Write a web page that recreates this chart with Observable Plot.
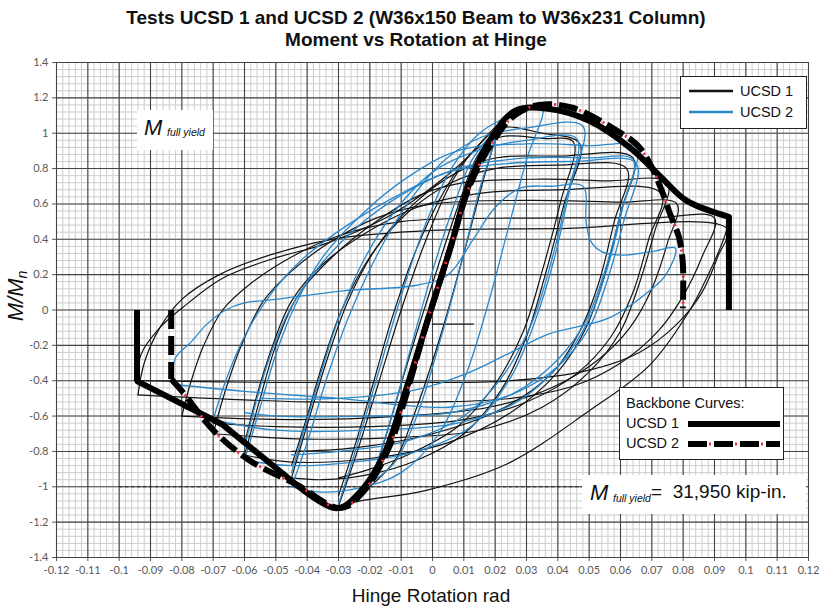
<!DOCTYPE html>
<html><head><meta charset="utf-8">
<script src="https://cdn.jsdelivr.net/npm/d3@7"></script>
<script src="https://cdn.jsdelivr.net/npm/@observablehq/plot@0.6"></script>
<style>
body{margin:0;background:#fff;}
#wrap{position:relative;width:825px;height:607px;font-family:"Liberation Sans",Arial,sans-serif;color:#111;overflow:hidden;}
#wrap svg{position:absolute;left:0;top:0;}
.abs{position:absolute;}
#title{left:0;top:7px;width:832px;text-align:center;font-weight:bold;font-size:19px;line-height:22px;}
#xlab{left:0;top:585px;width:862px;text-align:center;font-size:19px;line-height:22px;}
#ylab{left:16px;top:296px;transform:translate(-50%,-50%) rotate(-90deg);font-style:italic;font-size:22px;white-space:nowrap;}
#ylab sub{font-size:14px;vertical-align:-4px;}
#leg1{left:680px;top:76px;width:125px;height:51px;border:1px solid #222;background:#fff;}
#leg2{left:619px;top:387px;width:163px;height:71px;border:1px solid #222;background:#fff;}
.lrow{position:absolute;font-size:14.5px;line-height:16px;white-space:nowrap;}
#ann1{left:137px;top:110px;width:76px;height:40px;background:#fff;}
#ann2{left:582px;top:475px;width:224px;height:39px;background:#fff;}
.bigM{font-style:italic;font-size:22px;}
.sm{font-style:italic;font-size:10.5px;}
</style></head><body><div id="wrap"></div>
<script>
// ---------------- data ----------------
const xTicks = [-0.12,-0.11,-0.1,-0.09,-0.08,-0.07,-0.06,-0.05,-0.04,-0.03,-0.02,-0.01,0,0.01,0.02,0.03,0.04,0.05,0.06,0.07,0.08,0.09,0.1,0.11,0.12];
const yTicks = [-1.4,-1.2,-1,-0.8,-0.6,-0.4,-0.2,0,0.2,0.4,0.6,0.8,1,1.2,1.4];

// UCSD 1 hysteresis (rotation rad, M/Mn)
const ucsd1C1 = [[-0.012,-0.68],[-0.006,-0.32],[0.0,0.04],[0.006,0.40],[0.012,0.74],[0.007,0.42],[0.0,0.0],[-0.006,-0.36],[-0.012,-0.68]];
const ucsd1C2 = [[-0.02,-1.0],[-0.015,-0.72],[-0.008,-0.3],[0.0,0.15],[0.008,0.58],[0.014,0.86],[0.02,1.0],[0.016,0.72],[0.01,0.32],[0.003,-0.12],[-0.005,-0.55],[-0.012,-0.85],[-0.02,-1.0]];
const ucsd1C3 = [[-0.03,-1.11],[-0.024,-0.8],[-0.017,-0.4],[-0.01,0.0],[-0.002,0.4],[0.006,0.72],[0.014,0.92],[0.022,1.03],[0.035,1.0],[0.047,0.94],[0.042,0.6],[0.036,0.2],[0.03,-0.15],[0.022,-0.45],[0.01,-0.7],[-0.005,-0.85],[-0.02,-0.93],[-0.035,-0.96],[-0.045,-0.95]];
const ucsd1C3b = [[-0.03,-1.05],[-0.025,-0.78],[-0.019,-0.42],[-0.013,-0.05],[-0.005,0.35],[0.004,0.68],[0.012,0.88],[0.022,0.98],[0.035,0.97],[0.045,0.95],[0.041,0.62],[0.035,0.22],[0.029,-0.12],[0.02,-0.42],[0.008,-0.66],[-0.008,-0.82],[-0.02,-0.9],[-0.03,-0.95]];
const ucsd1C4 = [[-0.045,-0.95],[-0.04,-0.65],[-0.034,-0.3],[-0.027,0.05],[-0.018,0.35],[-0.006,0.6],[0.008,0.78],[0.02,0.86],[0.04,0.87],[0.064,0.86],[0.06,0.55],[0.055,0.2],[0.049,-0.1],[0.04,-0.35],[0.025,-0.58],[0.005,-0.75],[-0.02,-0.84],[-0.045,-0.86],[-0.06,-0.82]];
const ucsd1C4b = [[-0.045,-0.88],[-0.04,-0.6],[-0.035,-0.3],[-0.029,0.0],[-0.02,0.3],[-0.008,0.55],[0.006,0.72],[0.02,0.8],[0.04,0.82],[0.062,0.8],[0.058,0.5],[0.053,0.15],[0.047,-0.12],[0.038,-0.36],[0.022,-0.56],[0.0,-0.7],[-0.025,-0.78],[-0.045,-0.8]];
const ucsd1C5 = [[-0.06,-0.82],[-0.055,-0.5],[-0.05,-0.2],[-0.043,0.08],[-0.032,0.3],[-0.018,0.5],[-0.004,0.65],[0.01,0.72],[0.035,0.74],[0.055,0.73],[0.075,0.72],[0.071,0.45],[0.066,0.15],[0.06,-0.12],[0.05,-0.35],[0.035,-0.55],[0.015,-0.68],[-0.01,-0.72],[-0.04,-0.73],[-0.07,-0.7]];
const ucsd1C5b = [[-0.06,-0.76],[-0.056,-0.48],[-0.051,-0.2],[-0.045,0.05],[-0.035,0.26],[-0.02,0.45],[-0.005,0.58],[0.015,0.66],[0.04,0.68],[0.073,0.66],[0.069,0.4],[0.064,0.1],[0.057,-0.15],[0.046,-0.36],[0.03,-0.52],[0.01,-0.62],[-0.02,-0.66],[-0.05,-0.66],[-0.07,-0.64]];
const ucsd1C6 = [[-0.07,-0.7],[-0.066,-0.45],[-0.061,-0.2],[-0.054,0.05],[-0.045,0.22],[-0.033,0.38],[-0.018,0.52],[0.0,0.6],[0.03,0.62],[0.06,0.61],[0.078,0.6],[0.075,0.38],[0.07,0.12],[0.063,-0.1],[0.053,-0.28],[0.038,-0.44],[0.018,-0.55],[-0.01,-0.6],[-0.045,-0.62],[-0.08,-0.6]];
const ucsd1C7 = [[-0.08,-0.6],[-0.077,-0.4],[-0.073,-0.2],[-0.067,0.0],[-0.058,0.15],[-0.045,0.3],[-0.03,0.42],[-0.01,0.5],[0.03,0.52],[0.07,0.52],[0.09,0.52],[0.086,0.3],[0.08,0.08],[0.072,-0.12],[0.06,-0.3],[0.045,-0.43],[0.025,-0.5],[0.0,-0.52],[-0.04,-0.52],[-0.094,-0.48]];
const ucsd1C8 = [[-0.094,-0.48],[-0.092,-0.3],[-0.087,-0.1],[-0.08,0.06],[-0.068,0.2],[-0.052,0.31],[-0.032,0.4],[0.0,0.45],[0.04,0.46],[0.094,0.46],[0.091,0.3],[0.086,0.1],[0.078,-0.08],[0.066,-0.24],[0.05,-0.34],[0.025,-0.4],[-0.01,-0.41],[-0.05,-0.41],[-0.094,-0.4]];
const ucsd1OuterUp = [[-0.0943,-0.40],[-0.093,-0.25],[-0.087,-0.10],[-0.080,0.01],[-0.067,0.18],[-0.051,0.29],[-0.035,0.37],[-0.015,0.52],[-0.002,0.67],[0.011,0.86],[0.021,1.05],[0.028,1.12]];
const ucsd1OuterDown = [[0.0946,0.50],[0.0927,0.39],[0.088,0.2],[0.0825,0.01],[0.0694,-0.31],[0.05,-0.57],[0.0239,-0.87],[-0.002,-1.02],[-0.023,-1.08],[-0.030,-1.11]];
const ucsd1Mark = [[0.0,-0.08],[0.013,-0.08]];

// UCSD 2 hysteresis
const ucsd2C1 = [[-0.02,-0.98],[-0.014,-0.66],[-0.007,-0.22],[0.0,0.22],[0.007,0.6],[0.013,0.86],[0.02,1.0],[0.015,0.68],[0.009,0.25],[0.002,-0.2],[-0.005,-0.6],[-0.012,-0.86],[-0.02,-0.98]];
const ucsd2C2 = [[-0.03,-1.1],[-0.025,-0.82],[-0.018,-0.4],[-0.011,0.02],[-0.003,0.45],[0.006,0.8],[0.015,1.0],[0.025,1.1],[0.035,1.15],[0.03,0.85],[0.024,0.45],[0.018,0.05],[0.011,-0.35],[0.002,-0.7],[-0.01,-0.92],[-0.022,-1.0],[-0.035,-1.03],[-0.045,-1.0]];
const ucsd2C3 = [[-0.045,-1.0],[-0.04,-0.75],[-0.034,-0.4],[-0.027,-0.05],[-0.018,0.3],[-0.008,0.6],[0.004,0.85],[0.016,0.98],[0.03,1.03],[0.048,1.04],[0.044,0.7],[0.039,0.3],[0.033,-0.05],[0.025,-0.38],[0.013,-0.65],[-0.005,-0.8],[-0.025,-0.86],[-0.045,-0.88],[-0.06,-0.85]];
const ucsd2C3b = [[-0.045,-0.92],[-0.041,-0.68],[-0.036,-0.38],[-0.03,-0.05],[-0.022,0.28],[-0.012,0.56],[0.0,0.78],[0.014,0.9],[0.03,0.96],[0.046,0.97],[0.043,0.65],[0.038,0.28],[0.032,-0.06],[0.023,-0.36],[0.01,-0.6],[-0.008,-0.74],[-0.03,-0.8],[-0.045,-0.82]];
const ucsd2C4 = [[-0.06,-0.85],[-0.055,-0.55],[-0.05,-0.25],[-0.044,0.02],[-0.035,0.3],[-0.022,0.55],[-0.008,0.75],[0.008,0.9],[0.03,0.94],[0.05,0.93],[0.065,0.92],[0.061,0.6],[0.056,0.25],[0.05,-0.05],[0.041,-0.3],[0.027,-0.52],[0.008,-0.64],[-0.02,-0.68],[-0.05,-0.68],[-0.07,-0.62]];
const ucsd2C4b = [[-0.06,-0.78],[-0.056,-0.5],[-0.051,-0.22],[-0.045,0.02],[-0.036,0.25],[-0.024,0.47],[-0.01,0.65],[0.008,0.8],[0.03,0.86],[0.05,0.86],[0.064,0.85],[0.06,0.55],[0.055,0.22],[0.049,-0.06],[0.04,-0.28],[0.026,-0.47],[0.006,-0.58],[-0.02,-0.6],[-0.05,-0.6],[-0.06,-0.58]];
const ucsd2C5 = [[-0.07,-0.62],[-0.066,-0.4],[-0.06,-0.15],[-0.052,0.08],[-0.042,0.28],[-0.028,0.47],[-0.012,0.64],[0.005,0.78],[0.025,0.83],[0.045,0.84],[0.065,0.83],[0.061,0.5],[0.056,0.18],[0.05,-0.1],[0.04,-0.32],[0.025,-0.48],[0.005,-0.55],[-0.03,-0.5],[-0.06,-0.46],[-0.083,-0.42]];
const ucsd2C6 = [[-0.083,-0.39],[-0.082,-0.27],[-0.077,-0.18],[-0.072,-0.08],[-0.066,0.0],[-0.06,0.04],[-0.05,0.06],[-0.028,0.11],[-0.005,0.14],[0.005,0.2],[0.013,0.4],[0.02,0.58],[0.028,0.69],[0.038,0.7],[0.048,0.70],[0.049,0.5],[0.0505,0.39],[0.054,0.33],[0.06,0.31],[0.07,0.33],[0.0775,0.35],[0.0745,0.2],[0.0694,0.11],[0.0564,-0.045],[0.037,-0.136],[0.0239,-0.25],[0.0108,-0.36],[-0.005,-0.45],[-0.03,-0.5],[-0.055,-0.5]];

// Backbone curves
const ucsd1Backbone = [[-0.0943,0],[-0.0943,-0.402],[-0.0672,-0.646],[-0.0475,-0.929],[-0.0306,-1.121],[-0.0229,-1.025],[-0.0150,-0.798],[-0.0099,-0.532],[-0.0019,-0.079],[0.0057,0.351],[0.0121,0.730],[0.0188,0.974],[0.0264,1.127],[0.0369,1.138],[0.0500,1.070],[0.0631,0.917],[0.0732,0.747],[0.0812,0.617],[0.0946,0.527],[0.0946,0]];
const ucsd2Backbone = [[-0.0834,0],[-0.0834,-0.39],[-0.0799,-0.46],[-0.0697,-0.685],[-0.058,-0.855],[-0.0436,-0.985],[-0.0293,-1.12],[-0.0217,-1.02],[-0.0137,-0.77],[-0.009,-0.515],[-0.0016,-0.06],[0.0054,0.334],[0.0118,0.70],[0.0188,0.94],[0.0261,1.10],[0.0341,1.16],[0.0446,1.144],[0.0589,1.014],[0.0656,0.929],[0.0701,0.804],[0.0732,0.674],[0.0758,0.544],[0.0787,0.408],[0.0799,0.26],[0.0799,0.01]];

// M full yield reference line
const fullYieldLine = [[-0.1,-1],[0.05,-1]];

// ---------------- build ----------------
const ucsd1Curves = [ucsd1C1,ucsd1C2,ucsd1C3,ucsd1C3b,ucsd1C4,ucsd1C4b,ucsd1C5,ucsd1C5b,ucsd1C6,ucsd1C7,ucsd1C8,ucsd1OuterUp,ucsd1OuterDown,ucsd1Mark];
const ucsd2Curves = [ucsd2C1,ucsd2C2,ucsd2C3,ucsd2C3b,ucsd2C4,ucsd2C4b,ucsd2C5,ucsd2C6];
const rows = (curves, tag) => curves.flatMap((c, i) => c.map(([x, y]) => ({x, y, id: tag + i})));
const rows1 = rows(ucsd1Curves, "a");
const rows2 = rows(ucsd2Curves, "b");
const xMinor = d3.range(-120, 121, 2).map(d => d / 1000);
const yMinor = d3.range(-140, 141, 4).map(d => d / 100);
const fmt = d => String(Math.round(d * 100) / 100);
const px = d => d[0], py = d => d[1];
const bbDash = {x: px, y: py, stroke: "#000", strokeWidth: 6, strokeDasharray: "19,7", strokeLinecap: "butt"};
const bbDots = {x: px, y: py, stroke: "#f0303c", strokeWidth: 3, strokeDasharray: "2,24", strokeDashoffset: 5, strokeLinecap: "butt"};

const chart = Plot.plot({
  width: 825, height: 607,
  marginTop: 62, marginBottom: 50, marginLeft: 56, marginRight: 17,
  style: {fontFamily: "Lato, 'Liberation Sans', sans-serif", fontSize: "11px", color: "#595959", background: "transparent"},
  x: {domain: [-0.12, 0.12], ticks: xTicks, tickFormat: fmt, tickSize: 4, tickPadding: 5, label: null},
  y: {domain: [-1.4, 1.4], ticks: yTicks, tickFormat: fmt, tickSize: 4, tickPadding: 4, label: null},
  marks: [
    Plot.ruleX(xMinor, {stroke: "#cdcdcd", strokeWidth: 1}),
    Plot.ruleY(yMinor, {stroke: "#cdcdcd", strokeWidth: 1}),
    Plot.ruleX(xTicks, {stroke: "#444", strokeWidth: 1.1}),
    Plot.ruleY(yTicks, {stroke: "#444", strokeWidth: 1.1}),
    Plot.line(fullYieldLine, {x: px, y: py, stroke: "#222", strokeWidth: 1, strokeDasharray: "3,3"}),
    Plot.line(rows1, {x: "x", y: "y", z: "id", stroke: "#141414", strokeWidth: 1.2, curve: "catmull-rom"}),
    Plot.line(rows2, {x: "x", y: "y", z: "id", stroke: "#2a87c9", strokeWidth: 1.3, curve: "catmull-rom"}),
    Plot.line(ucsd1Backbone.slice(0, 4), {x: px, y: py, stroke: "#000", strokeWidth: 6, strokeLinecap: "butt", strokeLinejoin: "miter"}),
    Plot.line(ucsd1Backbone.slice(3, 19), {x: px, y: py, stroke: "#000", strokeWidth: 6, curve: "catmull-rom"}),
    Plot.line(ucsd1Backbone.slice(18), {x: px, y: py, stroke: "#000", strokeWidth: 6, strokeLinecap: "butt", strokeLinejoin: "miter"}),
    Plot.line(ucsd2Backbone.slice(0, 2), bbDash),
    Plot.line(ucsd2Backbone.slice(1), {...bbDash, curve: "catmull-rom"}),
    Plot.line(ucsd2Backbone.slice(1), {...bbDots, curve: "catmull-rom"})
  ]
});

const wrap = document.getElementById("wrap");
wrap.appendChild(chart);
wrap.insertAdjacentHTML("beforeend", `
<div id="title" class="abs">Tests UCSD 1 and UCSD 2 (W36x150 Beam to W36x231 Column)<br>Moment vs Rotation at Hinge</div>
<div id="xlab" class="abs">Hinge Rotation rad</div>
<div id="ylab" class="abs">M/M<sub>n</sub></div>
<div id="ann1" class="abs"><span class="abs bigM" style="left:7px;top:5px;">M</span><span class="abs sm" style="left:30px;top:16px;">full yield</span></div>
<div id="ann2" class="abs"><span class="abs bigM" style="left:8px;top:5px;">M</span><span class="abs sm" style="left:31px;top:17px;">full yield</span><span class="abs" style="left:69px;top:6px;font-size:19px;white-space:nowrap;">=&nbsp; 31,950 kip-in.</span></div>
<div id="leg1" class="abs">
  <svg class="abs" style="left:8px;top:0" width="46" height="50"><line x1="0" x2="44" y1="14" y2="14" stroke="#111" stroke-width="2.5"/><line x1="0" x2="44" y1="35" y2="35" stroke="#2a87c9" stroke-width="2.5"/></svg>
  <div class="lrow" style="left:59px;top:6px;">UCSD 1</div>
  <div class="lrow" style="left:59px;top:27px;">UCSD 2</div>
</div>
<div id="leg2" class="abs">
  <div class="lrow" style="left:6px;top:7px;">Backbone Curves:</div>
  <div class="lrow" style="left:6px;top:27px;">UCSD 1</div>
  <div class="lrow" style="left:6px;top:47px;">UCSD 2</div>
  <svg class="abs" style="left:66px;top:0" width="96" height="70"><line x1="2" x2="94" y1="36" y2="36" stroke="#000" stroke-width="6"/><line x1="2" x2="94" y1="56" y2="56" stroke="#000" stroke-width="6" stroke-dasharray="19,7"/><line x1="2" x2="94" y1="56" y2="56" stroke="#f0303c" stroke-width="3" stroke-dasharray="2,24" stroke-dashoffset="5"/></svg>
</div>
`);
</script></body></html>
